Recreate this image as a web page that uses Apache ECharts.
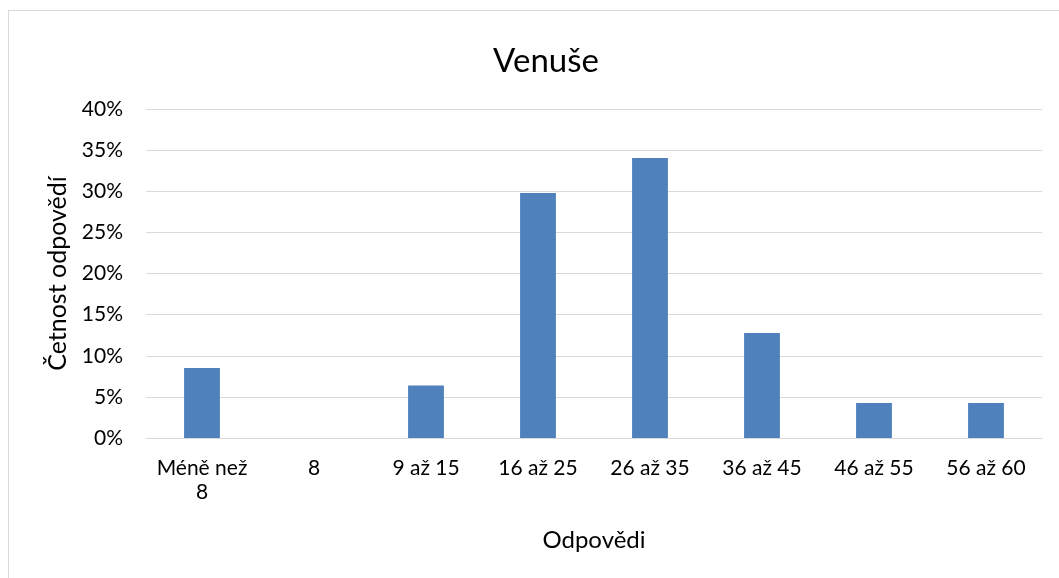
<!DOCTYPE html>
<html>
<head>
<meta charset="utf-8">
<script src="https://cdn.jsdelivr.net/npm/echarts@6/dist/echarts.min.js"></script>
<style>
  html, body { margin: 0; padding: 0; background: #fff; }
  #frame { position: absolute; left: 8px; top: 10px; width: 1060px; height: 580px; border: 1px solid #d9d9d9; box-sizing: border-box; }
  #chart { position: absolute; left: 0; top: 0; width: 1059px; height: 578px; }
</style>
</head>
<body>
<div id="frame"></div>
<div id="chart"></div>
<script>
// Response ranges and share of answers (%)
const categories = ['Méně než 8', '8', '9 až 15', '16 až 25', '26 až 35', '36 až 45', '46 až 55', '56 až 60'];
const shares = [8.51, 0, 6.38, 29.79, 34.04, 12.77, 4.26, 4.26];
const yTicks = [0, 5, 10, 15, 20, 25, 30, 35, 40];

const font = 'Lato, "Open Sans", sans-serif';
const chart = echarts.init(document.getElementById('chart'));
chart.setOption({
  animation: false,
  backgroundColor: 'transparent',
  title: {
    text: 'Venuše',
    left: 541,
    textAlign: 'center',
    top: 40,
    textStyle: { fontFamily: font, fontSize: 33, fontWeight: 'normal', color: '#000' }
  },
  grid: { left: 146, right: 17, top: 109, bottom: 140 },
  xAxis: {
    type: 'category',
    data: categories,
    name: 'Odpovědi',
    nameLocation: 'middle',
    nameGap: 90,
    nameTextStyle: { fontFamily: font, fontSize: 24, color: '#000' },
    axisLine: { lineStyle: { color: '#d9d9d9', width: 1 } },
    axisTick: { show: false },
    axisLabel: {
      interval: 0,
      hideOverlap: false,
      fontFamily: font, fontSize: 21, color: '#000', margin: 18, lineHeight: 24,
      formatter: v => v.replace('než ', 'než\n')
    }
  },
  yAxis: {
    type: 'value',
    min: yTicks[0],
    max: yTicks[yTicks.length - 1],
    interval: 5,
    name: 'Četnost odpovědí',
    nameLocation: 'middle',
    nameGap: 73,
    nameTextStyle: { fontFamily: font, fontSize: 25, color: '#000' },
    axisLine: { show: false },
    axisTick: { show: false },
    axisLabel: { fontFamily: font, fontSize: 21, color: '#000', margin: 23, formatter: '{value}%' },
    splitLine: { lineStyle: { color: '#d9d9d9', width: 1 } }
  },
  series: [{
    type: 'bar',
    data: shares,
    barWidth: '32%',
    itemStyle: { color: '#4f81bd' }
  }]
});
</script>
</body>
</html>
